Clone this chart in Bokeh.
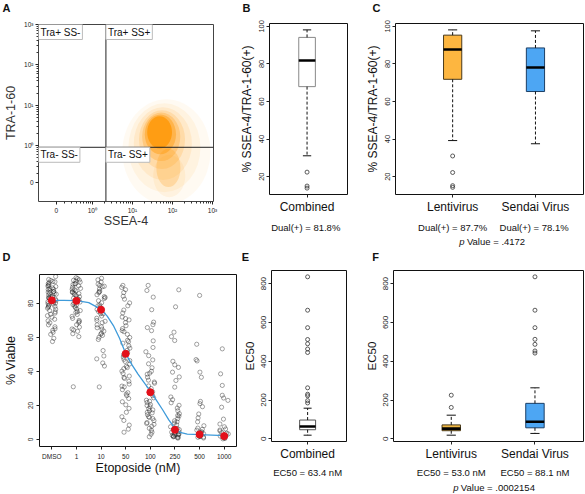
import numpy as np
from bokeh.plotting import figure
from bokeh.layouts import row, column
from bokeh.models import Range1d, FixedTicker, Label, Span, ColumnDataSource
from bokeh.transform import jitter
from bokeh.embed import file_html
from bokeh.resources import INLINE

FONT = "Liberation Sans"

# ---------------- data ----------------
# A: flow cytometry, axes in decade units of a biexponential display
a_x_ticks = [-0.9, 0, 1, 2, 3]
a_y_ticks = [-0.92, 0, 1, 2, 3]
a_tick_labels = ["0", "10⁰", "10¹", "10²", "10³"]
a_gate_x = 0.34
a_gate_y = -0.04
a_quadrants = ["Tra+ SS-", "Tra+ SS+", "Tra- SS-", "Tra- SS+"]
# density cloud of events, summarised as nested ellipses (outer = sparse)
a_cloud_x = [1.85, 1.80, 1.76, 1.74, 1.72, 1.70, 1.68, 1.90, 1.92]
a_cloud_y = [-0.15, -0.05, 0.05, 0.15, 0.22, 0.28, 0.33, -0.55, -0.75]
a_cloud_w = [2.20, 1.80, 1.45, 1.15, 0.95, 0.78, 0.62, 0.60, 0.80]
a_cloud_h = [2.60, 2.20, 1.80, 1.45, 1.20, 0.98, 0.80, 0.95, 1.05]
a_cloud_alpha = [0.05, 0.07, 0.10, 0.16, 0.25, 0.40, 0.75, 0.22, 0.08]

# B / C: % SSEA-4/TRA-1-60(+)
bc_groups = ["Combined", "Lentivirus", "Sendai Virus"]
bc_low = [31.1, 39.2, 37.5]
bc_q1 = [67.9, 71.8, 65.3]
bc_med = [81.8, 87.7, 78.1]
bc_q3 = [94.1, 95.3, 88.5]
bc_high = [98.1, 98.1, 97.6]
bc_outliers = [[22.4, 15.0, 13.9], [31.0, 22.2, 15.2, 14.3], []]
bc_notes = ["Dual(+) =  81.8%", "Dual(+) = 87.7%", "Dual(+) =  78.1%"]
c_pvalue = "Value = .4172"

# D: % viable vs etoposide
d_conc = ["DMSO", "1", "10", "50", "100", "250", "500", "1000"]
d_dmso = [95.8, 94.1, 93.5, 92.7, 92.2, 91.6, 91.0, 90.4, 89.9, 89.1, 88.7, 88.2, 87.5, 87.0, 86.6, 86.1,
          85.4, 84.9, 84.3, 83.8, 83.2, 82.9, 82.4, 81.7, 81.3, 80.8, 80.2, 79.6, 79.1, 78.5, 77.9, 77.2,
          76.6, 75.8, 75.1, 74.3, 73.6, 72.8, 71.9, 70.7, 69.8, 68.6, 67.4, 66.3, 65.1, 64.2, 63.0, 61.8,
          59.5, 57.6, 90.2, 85.7, 83.5, 81.0, 78.2, 92.9, 86.9, 84.0, 79.9, 88.4]
d_1 = [95.1, 94.6, 93.8, 93.2, 92.5, 91.7, 91.1, 90.3, 89.5, 88.8, 88.1, 87.4, 86.8, 86.0, 85.3, 84.6,
       83.9, 83.1, 82.4, 81.6, 80.8, 80.1, 79.3, 78.4, 77.6, 76.7, 75.8, 74.7, 73.5, 72.4, 71.2, 70.0,
       68.8, 67.5, 66.1, 65.0, 63.6, 62.2, 60.5, 31.0, 91.5, 88.3, 85.8, 83.0, 79.0, 75.2, 69.3, 64.4,
       93.6, 86.5]
d_10 = [94.8, 93.9, 92.6, 91.4, 90.6, 89.8, 88.5, 87.2, 86.3, 85.1, 84.0, 82.9, 81.6, 80.4, 79.1, 77.8,
        76.5, 75.2, 73.9, 72.6, 71.3, 70.0, 68.7, 67.4, 66.2, 64.9, 63.7, 62.5, 61.2, 60.1, 58.8, 52.3,
        49.1, 47.4, 45.0, 43.2, 30.9, 90.1, 86.8, 83.5, 78.6, 74.0, 69.5, 65.7, 61.9]
d_50 = [90.6, 89.4, 88.1, 86.4, 84.2, 82.5, 80.3, 78.6, 76.1, 74.4, 72.0, 70.3, 68.7, 66.9, 65.2, 63.4,
        61.8, 60.0, 58.3, 56.6, 55.1, 53.7, 52.4, 51.0, 49.8, 48.5, 47.1, 45.9, 44.4, 43.0, 41.7, 40.2,
        38.8, 37.3, 35.9, 34.2, 32.6, 30.9, 29.3, 27.5, 25.8, 24.1, 22.2, 20.4, 18.3, 16.0, 13.4, 11.2,
        8.5, 6.1, 4.3, 71.1, 64.0, 57.5, 50.3, 46.4, 42.3, 36.5, 31.4, 26.7]
d_100 = [90.6, 87.6, 83.7, 76.3, 69.0, 67.5, 65.8, 64.0, 58.0, 54.1, 51.6, 49.3, 46.8, 44.5, 42.2, 40.1,
         38.4, 36.6, 34.9, 33.1, 31.5, 30.0, 28.6, 27.2, 25.8, 24.5, 23.1, 21.8, 20.5, 19.3, 18.1, 16.9,
         15.7, 14.6, 13.4, 12.3, 11.1, 10.0, 8.9, 7.8, 6.6, 5.5, 4.3, 3.1, 1.6, 39.0, 33.8, 28.0, 22.5,
         17.4, 13.0, 9.4, 20.0, 16.0]
d_250 = [88.0, 78.0, 63.1, 60.5, 58.2, 46.0, 43.9, 42.4, 39.6, 36.8, 34.7, 30.8, 25.0, 23.4, 21.6, 20.1,
         18.5, 16.9, 15.2, 13.8, 12.3, 11.0, 9.7, 8.6, 7.5, 6.6, 5.8, 5.0, 4.3, 3.7, 3.1, 2.6, 2.1, 1.6,
         1.2, 0.8, 6.2, 4.6, 3.3, 2.4, 1.8, 10.4, 14.1, 5.4, 2.9, 1.4]
d_500 = [84.7, 56.0, 47.0, 46.2, 39.6, 36.6, 22.4, 21.1, 19.3, 15.0, 12.7, 10.4, 8.1, 6.7, 5.5, 4.6, 3.8,
         3.1, 2.6, 2.1, 1.7, 1.3, 0.9, 4.2, 2.9, 1.9, 6.0, 3.4, 1.5]
d_1000 = [53.3, 38.6, 31.8, 26.0, 24.4, 23.0, 19.0, 12.0, 9.1, 7.5, 6.2, 5.0, 4.1, 3.3, 2.6, 2.0, 1.5,
          1.0, 0.6, 3.7, 2.3, 1.2, 5.6, 0.4]
d_mean = [81.8, 81.5, 76.3, 50.4, 27.8, 5.7, 3.0, 2.0]
# fitted dose-response curve (x in category steps from DMSO)
d_fit_x = [0, 0.5, 1, 1.5, 2, 2.25, 2.5, 2.75, 3, 3.25, 3.5, 3.75, 4, 4.25, 4.5, 4.75, 5, 5.25, 5.5, 6, 6.5, 7]
d_fit_y = [81.8, 81.8, 81.6, 80.5, 76.5, 72.5, 67.0, 59.5, 50.5, 44.0, 38.5, 33.5, 28.5, 23.0, 17.5, 11.5,
           6.5, 4.0, 3.2, 2.9, 2.6, 2.3]

# E / F: EC50 boxplots
ef_low = [19, 19, 28]
ef_q1 = [47, 42, 57]
ef_med = [63.4, 53.0, 88.1]
ef_q3 = [97, 72, 183]
ef_high = [158, 122, 263]
ef_outliers = [[835, 663, 573, 512, 490, 463, 445, 263, 230, 222, 197, 185],
               [225, 162],
               [835, 663, 573, 513, 487, 453, 442]]
ef_notes = ["EC50 = 63.4 nM", "EC50 = 53.0 nM", "EC50 = 88.1 nM"]
f_pvalue = "Value = .0002154"

panel_letters = ["A", "B", "C", "D", "E", "F"]

# ---------------- layout specs (page pixels) ----------------
PAGE_W = 585
SPEC = {
    "A": dict(ox=0, oy=14, w=236, h=233, l=38, r=23, t=10, b=46, xr=(-1.3425, 3.025), yr=(-1.382, 3.0)),
    "B": dict(ox=236, oy=14, w=126, h=202, l=31, r=15, t=9, b=16, xr=(0.48, 1.56), yr=(10.5, 101.5)),
    "C": dict(ox=362, oy=14, w=223, h=202, l=25, r=2, t=9, b=16, xr=(0.31, 2.58), yr=(10.5, 101.5)),
    "D": dict(ox=0, oy=262, w=240, h=232, l=38, r=4, t=12, b=48, xr=(0, 8), yr=(-4.1, 97.0)),
    "E": dict(ox=240, oy=262, w=122, h=201, l=26, r=16, t=8, b=18, xr=(0.48, 1.56), yr=(-13.6, 867.6)),
    "F": dict(ox=362, oy=262, w=223, h=201, l=25, r=2, t=8, b=18, xr=(0.31, 2.58), yr=(-13.6, 867.6)),
}
HEADERS = [dict(oy=0, h=14), dict(oy=247, h=15)]
FOOT_H = {"B": 31, "C": 31, "E": 31, "F": 31}


def to_data_x(s, px):
    L = s["ox"] + s["l"]
    R = s["ox"] + s["w"] - s["r"]
    x0, x1 = s["xr"]
    return x0 + (px - L) / (R - L) * (x1 - x0)


def base(width, height, l, r, t, b, xr, yr, axes=True):
    kw = {} if axes else dict(x_axis_location=None, y_axis_location=None)
    p = figure(width=width, height=height, x_range=xr, y_range=yr,
               output_backend="svg", toolbar_location=None,
               min_border_left=l, min_border_right=r, min_border_top=t, min_border_bottom=b, **kw)
    p.grid.visible = False
    p.background_fill_color = "white"
    p.border_fill_color = "white"
    return p


def make_fig(key):
    s = SPEC[key]
    p = base(s["w"], s["h"], s["l"], s["r"], s["t"], s["b"], Range1d(*s["xr"]), Range1d(*s["yr"]))
    p.outline_line_color = "#111111"
    p.outline_line_width = 1
    p.outline_line_alpha = 1
    for ax in (p.xaxis[0], p.yaxis[0]):
        ax.axis_line_color = None
        ax.major_tick_in = 0
        ax.major_tick_out = 3
        ax.minor_tick_in = 0
        ax.minor_tick_out = 0
        ax.major_tick_line_color = "#222222"
        ax.major_label_text_font = FONT
        ax.major_label_text_color = "#222222"
        ax.axis_label_text_font = FONT
        ax.axis_label_text_font_style = "normal"
        ax.axis_label_text_color = "#111111"
    return p


def make_footer(key, main):
    s = SPEC[key]
    h = FOOT_H[key]
    p = base(s["w"], h, s["l"], s["r"], 0, 0, main.x_range, Range1d(h, 0), axes=False)
    p.outline_line_color = None
    return p


def add_text(p, x, y, text, size, align="center", style="normal"):
    p.add_layout(Label(x=x, y=y, text=text, text_font=FONT, text_font_size=f"{size}px",
                       text_align=align, text_baseline="middle", text_font_style=style,
                       text_color="#111111"))


# ---------------- headers with panel letters ----------------
header_figs = []
letter_pos = [[(6, 7), (246, 7), (376, 7)], [(6, 9), (245, 9), (375, 9)]]
for hi, hd in enumerate(HEADERS):
    hf = base(PAGE_W, hd["h"], 0, 0, 0, 0, Range1d(0, PAGE_W), Range1d(hd["h"], 0), axes=False)
    hf.outline_line_color = None
    for (lx, ly), letter in zip(letter_pos[hi], panel_letters[hi * 3:hi * 3 + 3]):
        add_text(hf, lx, ly, letter, 11, style="bold")
    header_figs.append(hf)

# ---------------- Panel A ----------------
pA = make_fig("A")
sA = SPEC["A"]
minor = [d + np.log10(k) for d in (-1, 0, 1, 2) for k in range(2, 10)]
pA.xaxis.ticker = FixedTicker(ticks=a_x_ticks, minor_ticks=minor)
pA.yaxis.ticker = FixedTicker(ticks=a_y_ticks, minor_ticks=minor)
pA.xaxis.major_label_overrides = {t: l for t, l in zip(a_x_ticks, a_tick_labels)}
pA.yaxis.major_label_overrides = {t: l for t, l in zip(a_y_ticks, a_tick_labels)}
for ax in (pA.xaxis[0], pA.yaxis[0]):
    ax.minor_tick_out = 2
    ax.minor_tick_line_color = "#333333"
    ax.major_label_text_font_size = "6.5px"
    ax.major_label_standoff = 2
    ax.axis_label_text_font_size = "12.5px"
    ax.axis_label_text_color = "#333333"
pA.xaxis.axis_label = "SSEA-4"
pA.yaxis.axis_label = "TRA-1-60"
pA.xaxis.axis_label_standoff = -3
pA.yaxis.axis_label_standoff = 3
pA.outline_line_color = "#444444"

pA.ellipse(x=a_cloud_x, y=a_cloud_y, width=a_cloud_w, height=a_cloud_h,
           fill_color="#FF9500", fill_alpha=a_cloud_alpha, line_color=None)
pA.add_layout(Span(location=a_gate_y, dimension="width", line_color="#222222", line_width=1))
pA.add_layout(Span(location=a_gate_x, dimension="height", line_color="#222222", line_width=1))
corners = [(sA["xr"][0], sA["yr"][1]), (a_gate_x, sA["yr"][1]), (sA["xr"][0], a_gate_y), (a_gate_x, a_gate_y)]
for (cx, cy), name in zip(corners, a_quadrants):
    pA.add_layout(Label(x=cx, y=cy, text=name, text_font=FONT, text_font_size="10px",
                        text_align="left", text_baseline="top", text_color="#111111",
                        background_fill_color="white", border_line_color="#BBBBBB",
                        padding=2))


# ---------------- box plot helpers ----------------
def draw_boxes(p, xs, low, q1, med, q3, high, outs, width, fills, borders):
    half = width / 2.0
    p.vbar(x=xs, width=width, bottom=q1, top=q3, fill_color=fills, line_color=borders, line_width=1)
    p.segment(x0=xs, y0=q3, x1=xs, y1=high, line_color="#111111", line_dash="3 2", line_width=1)
    p.segment(x0=xs, y0=q1, x1=xs, y1=low, line_color="#111111", line_dash="3 2", line_width=1)
    p.segment(x0=[x - half / 2 for x in xs], y0=high, x1=[x + half / 2 for x in xs], y1=high,
              line_color="#111111", line_width=1)
    p.segment(x0=[x - half / 2 for x in xs], y0=low, x1=[x + half / 2 for x in xs], y1=low,
              line_color="#111111", line_width=1)
    p.segment(x0=[x - half for x in xs], y0=med, x1=[x + half for x in xs], y1=med,
              line_color="black", line_width=2.6)
    ox, oy = [], []
    for x, o in zip(xs, outs):
        ox += [x] * len(o)
        oy += o
    p.scatter(x=ox, y=oy, marker="circle", size=4, fill_color=None, line_color="#333333", line_width=0.8)


def style_box_axes(p, positions, names, ylabel, yticks, ysize, ylsize):
    p.xaxis.ticker = FixedTicker(ticks=positions)
    p.xaxis.major_label_overrides = {t: n for t, n in zip(positions, names)}
    p.xaxis.major_label_text_font_size = "12px"
    p.xaxis.major_label_text_color = "#111111"
    p.xaxis.major_label_standoff = 2
    p.yaxis.ticker = FixedTicker(ticks=yticks)
    p.yaxis.major_label_orientation = "parallel"
    p.yaxis.major_label_text_font_size = ysize
    p.yaxis.major_label_standoff = 2
    p.yaxis.axis_label = ylabel
    p.yaxis.axis_label_text_font_size = ylsize
    p.yaxis.axis_label_standoff = 3


# ---------------- Panel B ----------------
pB = make_fig("B")
draw_boxes(pB, [1], bc_low[:1], bc_q1[:1], bc_med[:1], bc_q3[:1], bc_high[:1], bc_outliers[:1],
           0.23, ["white"], ["#888888"])
style_box_axes(pB, [1], bc_groups[:1], "% SSEA-4/TRA-1-60(+)", [20, 40, 60, 80, 100], "7.5px", "12px")
fB = make_footer("B", pB)
add_text(fB, 1, 10.7, bc_notes[0], 9.5)

# ---------------- Panel C ----------------
pC = make_fig("C")
draw_boxes(pC, [1, 2], bc_low[1:], bc_q1[1:], bc_med[1:], bc_q3[1:], bc_high[1:], bc_outliers[1:],
           0.22, ["#FDB640", "#4DA6F3"], ["#4a3a1a", "#1c3f66"])
style_box_axes(pC, [1, 2], bc_groups[1:], "% SSEA-4/TRA-1-60(+)", [20, 40, 60, 80, 100], "7.5px", "12px")
fC = make_footer("C", pC)
for gx, note in zip([1, 2], bc_notes[1:]):
    add_text(fC, gx, 10.7, note, 9.5)
add_text(fC, to_data_x(SPEC["C"], 459), 24.5, "p", 9.5, align="right", style="italic")
add_text(fC, to_data_x(SPEC["C"], 461.5), 24.5, c_pvalue, 9.5, align="left")

# ---------------- Panel D ----------------
pD = make_fig("D")
groups = [d_dmso, d_1, d_10, d_50, d_100, d_250, d_500, d_1000]
centers = [i + 0.5 for i in range(len(d_conc))]
px_, py_ = [], []
for c, g in zip(centers, groups):
    px_ += [c] * len(g)
    py_ += g
srcD = ColumnDataSource(dict(x=px_, y=py_))
pD.scatter(x=jitter("x", width=0.36), y="y", source=srcD, marker="circle", size=4.2,
           fill_color=None, line_color="#222222", line_alpha=0.6, line_width=0.7)
pD.line(x=[c + 0.5 for c in d_fit_x], y=d_fit_y, line_color="#3F9BDA", line_width=1.3)
pD.scatter(x=centers, y=d_mean, marker="circle", size=7, fill_color="#E3101A", line_color="#E3101A")
pD.xaxis.ticker = FixedTicker(ticks=centers)
pD.xaxis.major_label_overrides = {c: n for c, n in zip(centers, d_conc)}
pD.xaxis.major_label_text_font_size = "6.5px"
pD.xaxis.major_label_standoff = 3
pD.xaxis.axis_label = "Etoposide (nM)"
pD.xaxis.axis_label_text_font_size = "12.5px"
pD.xaxis.axis_label_standoff = -2
pD.yaxis.ticker = FixedTicker(ticks=[0, 20, 40, 60, 80])
pD.yaxis.major_label_orientation = "parallel"
pD.yaxis.major_label_text_font_size = "6.5px"
pD.yaxis.major_label_standoff = 3
pD.yaxis.axis_label = "% Viable"
pD.yaxis.axis_label_text_font_size = "12.5px"
pD.yaxis.axis_label_standoff = 8

# ---------------- Panel E ----------------
pE = make_fig("E")
draw_boxes(pE, [1], ef_low[:1], ef_q1[:1], ef_med[:1], ef_q3[:1], ef_high[:1], ef_outliers[:1],
           0.23, ["white"], ["#555555"])
style_box_axes(pE, [1], ["Combined"], "EC50", [0, 200, 400, 600, 800], "8px", "11.5px")
fE = make_footer("E", pE)
add_text(fE, 1, 8.7, ef_notes[0], 9.5)

# ---------------- Panel F ----------------
pF = make_fig("F")
draw_boxes(pF, [1, 2], ef_low[1:], ef_q1[1:], ef_med[1:], ef_q3[1:], ef_high[1:], ef_outliers[1:],
           0.22, ["#EFB846", "#4DA6F3"], ["#4a3a1a", "#1c3f66"])
style_box_axes(pF, [1, 2], bc_groups[1:], "EC50", [0, 200, 400, 600, 800], "8px", "11.5px")
fF = make_footer("F", pF)
for gx, note in zip([1, 2], ef_notes[1:]):
    add_text(fF, gx, 8.7, note, 9.5)
add_text(fF, to_data_x(SPEC["F"], 454), 24.3, "p", 9.5, align="right", style="italic")
add_text(fF, to_data_x(SPEC["F"], 456.5), 24.3, f_pvalue, 9.5, align="left")

layout = column(
    header_figs[0],
    row(pA, column(pB, fB), column(pC, fC)),
    header_figs[1],
    row(pD, column(pE, fE), column(pF, fF)),
)
open("out.html", "w").write(file_html(layout, INLINE))
